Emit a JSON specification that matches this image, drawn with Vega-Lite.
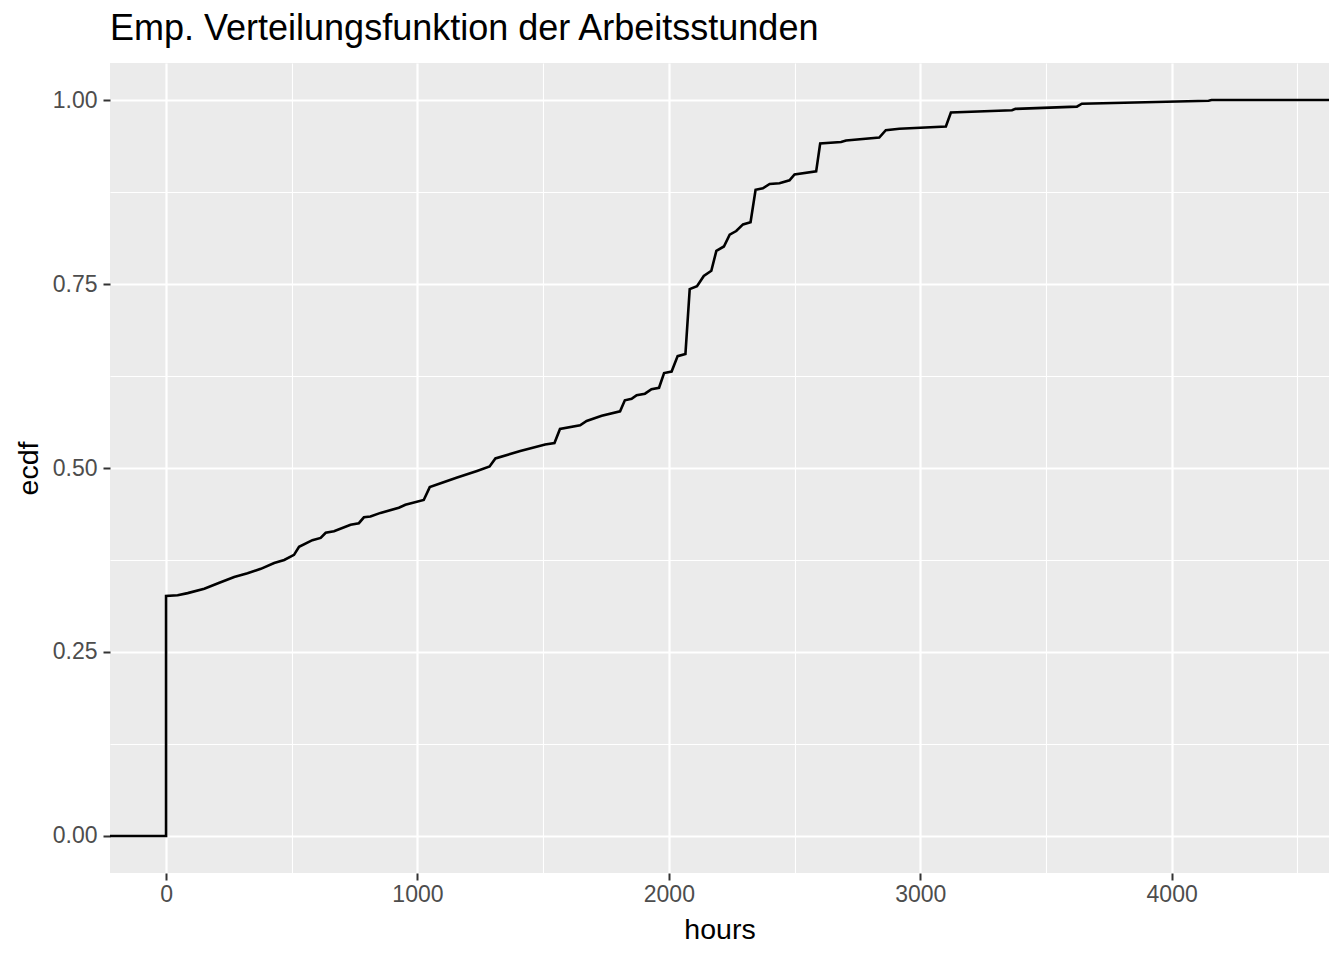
{
  "$schema": "https://vega.github.io/schema/vega-lite/v6.json",
  "width": 1219,
  "height": 810,
  "autosize": {"type": "none"},
  "padding": {"left": 110, "top": 63, "right": 15, "bottom": 87},
  "background": "white",
  "view": {"fill": "#EBEBEB", "stroke": null},
  "title": {
    "text": "Emp. Verteilungsfunktion der Arbeitsstunden",
    "anchor": "start",
    "frame": "group",
    "font": "Liberation Sans",
    "fontSize": 36,
    "fontWeight": "normal",
    "color": "black",
    "baseline": "alphabetic",
    "offset": -13
  },
  "data": {
    "values": [
      {"i": 0, "hours": -223, "ecdf": 0},
      {"i": 1, "hours": 0, "ecdf": 0},
      {"i": 2, "hours": 0, "ecdf": 0.326},
      {"i": 3, "hours": 46, "ecdf": 0.327},
      {"i": 4, "hours": 86, "ecdf": 0.330},
      {"i": 5, "hours": 152, "ecdf": 0.336},
      {"i": 6, "hours": 212, "ecdf": 0.344},
      {"i": 7, "hours": 271, "ecdf": 0.352},
      {"i": 8, "hours": 324, "ecdf": 0.357},
      {"i": 9, "hours": 377, "ecdf": 0.363},
      {"i": 10, "hours": 430, "ecdf": 0.371},
      {"i": 11, "hours": 470, "ecdf": 0.375},
      {"i": 12, "hours": 509, "ecdf": 0.382},
      {"i": 13, "hours": 529, "ecdf": 0.393},
      {"i": 14, "hours": 582, "ecdf": 0.402},
      {"i": 15, "hours": 615, "ecdf": 0.405},
      {"i": 16, "hours": 635, "ecdf": 0.412},
      {"i": 17, "hours": 668, "ecdf": 0.414},
      {"i": 18, "hours": 734, "ecdf": 0.423},
      {"i": 19, "hours": 767, "ecdf": 0.425},
      {"i": 20, "hours": 787, "ecdf": 0.433},
      {"i": 21, "hours": 813, "ecdf": 0.434},
      {"i": 22, "hours": 853, "ecdf": 0.439},
      {"i": 23, "hours": 926, "ecdf": 0.446},
      {"i": 24, "hours": 952, "ecdf": 0.450},
      {"i": 25, "hours": 1025, "ecdf": 0.4565},
      {"i": 26, "hours": 1049, "ecdf": 0.474},
      {"i": 27, "hours": 1098, "ecdf": 0.480},
      {"i": 28, "hours": 1158, "ecdf": 0.487},
      {"i": 29, "hours": 1237, "ecdf": 0.496},
      {"i": 30, "hours": 1287, "ecdf": 0.502},
      {"i": 31, "hours": 1310, "ecdf": 0.513},
      {"i": 32, "hours": 1409, "ecdf": 0.523},
      {"i": 33, "hours": 1508, "ecdf": 0.532},
      {"i": 34, "hours": 1545, "ecdf": 0.534},
      {"i": 35, "hours": 1567, "ecdf": 0.553},
      {"i": 36, "hours": 1647, "ecdf": 0.558},
      {"i": 37, "hours": 1673, "ecdf": 0.564},
      {"i": 38, "hours": 1733, "ecdf": 0.571},
      {"i": 39, "hours": 1806, "ecdf": 0.577},
      {"i": 40, "hours": 1825, "ecdf": 0.592},
      {"i": 41, "hours": 1852, "ecdf": 0.594},
      {"i": 42, "hours": 1872, "ecdf": 0.599},
      {"i": 43, "hours": 1905, "ecdf": 0.601},
      {"i": 44, "hours": 1931, "ecdf": 0.607},
      {"i": 45, "hours": 1961, "ecdf": 0.609},
      {"i": 46, "hours": 1981, "ecdf": 0.629},
      {"i": 47, "hours": 2011, "ecdf": 0.631},
      {"i": 48, "hours": 2035, "ecdf": 0.652},
      {"i": 49, "hours": 2066, "ecdf": 0.655},
      {"i": 50, "hours": 2083, "ecdf": 0.743},
      {"i": 51, "hours": 2112, "ecdf": 0.747},
      {"i": 52, "hours": 2139, "ecdf": 0.761},
      {"i": 53, "hours": 2169, "ecdf": 0.768},
      {"i": 54, "hours": 2189, "ecdf": 0.795},
      {"i": 55, "hours": 2219, "ecdf": 0.801},
      {"i": 56, "hours": 2242, "ecdf": 0.817},
      {"i": 57, "hours": 2268, "ecdf": 0.822},
      {"i": 58, "hours": 2295, "ecdf": 0.831},
      {"i": 59, "hours": 2325, "ecdf": 0.834},
      {"i": 60, "hours": 2345, "ecdf": 0.878},
      {"i": 61, "hours": 2374, "ecdf": 0.880},
      {"i": 62, "hours": 2401, "ecdf": 0.886},
      {"i": 63, "hours": 2440, "ecdf": 0.887},
      {"i": 64, "hours": 2480, "ecdf": 0.891},
      {"i": 65, "hours": 2500, "ecdf": 0.899},
      {"i": 66, "hours": 2586, "ecdf": 0.903},
      {"i": 67, "hours": 2602, "ecdf": 0.941},
      {"i": 68, "hours": 2685, "ecdf": 0.943},
      {"i": 69, "hours": 2705, "ecdf": 0.945},
      {"i": 70, "hours": 2837, "ecdf": 0.949},
      {"i": 71, "hours": 2863, "ecdf": 0.959},
      {"i": 72, "hours": 2917, "ecdf": 0.961},
      {"i": 73, "hours": 3102, "ecdf": 0.964},
      {"i": 74, "hours": 3122, "ecdf": 0.983},
      {"i": 75, "hours": 3365, "ecdf": 0.986},
      {"i": 76, "hours": 3379, "ecdf": 0.988},
      {"i": 77, "hours": 3623, "ecdf": 0.991},
      {"i": 78, "hours": 3643, "ecdf": 0.995},
      {"i": 79, "hours": 4147, "ecdf": 0.999},
      {"i": 80, "hours": 4159, "ecdf": 1.0},
      {"i": 81, "hours": 4626, "ecdf": 1.0}
    ]
  },
  "mark": {"type": "line", "color": "black", "strokeWidth": 2.6, "clip": true},
  "encoding": {
    "order": {"field": "i", "type": "quantitative"},
    "x": {
      "field": "hours",
      "type": "quantitative",
      "scale": {"domain": [-223, 4626], "nice": false, "zero": false},
      "axis": {
        "values": [0, 500, 1000, 1500, 2000, 2500, 3000, 3500, 4000, 4500],
        "format": "d",
        "labelExpr": "datum.value % 1000 === 0 ? datum.label : ''",
        "domain": false,
        "grid": true,
        "gridColor": "white",
        "gridOpacity": 1,
        "gridWidth": {"condition": {"test": "datum.value % 1000 === 0", "value": 2.2}, "value": 1.1},
        "ticks": true,
        "tickColor": "#333333",
        "tickWidth": 2,
        "tickSize": 7,
        "tickOpacity": {"condition": {"test": "datum.value % 1000 === 0", "value": 1}, "value": 0},
        "labelFont": "Liberation Sans",
        "labelFontSize": 23,
        "labelColor": "#4D4D4D",
        "labelPadding": 3,
        "labelFlush": false,
        "labelOverlap": false,
        "title": "hours",
        "titleFont": "Liberation Sans",
        "titleFontSize": 28.5,
        "titleFontWeight": "normal",
        "titleColor": "black",
        "titlePadding": 9
      }
    },
    "y": {
      "field": "ecdf",
      "type": "quantitative",
      "scale": {"domain": [-0.0503, 1.0503], "nice": false, "zero": false},
      "axis": {
        "values": [0, 0.125, 0.25, 0.375, 0.5, 0.625, 0.75, 0.875, 1],
        "format": ".2f",
        "labelExpr": "(datum.value * 4) % 1 === 0 ? datum.label : ''",
        "domain": false,
        "grid": true,
        "gridColor": "white",
        "gridOpacity": 1,
        "gridWidth": {"condition": {"test": "(datum.value * 4) % 1 === 0", "value": 2.2}, "value": 1.1},
        "ticks": true,
        "tickColor": "#333333",
        "tickWidth": 2,
        "tickSize": 7,
        "tickOpacity": {"condition": {"test": "(datum.value * 4) % 1 === 0", "value": 1}, "value": 0},
        "labelFont": "Liberation Sans",
        "labelFontSize": 23,
        "labelColor": "#4D4D4D",
        "labelPadding": 6,
        "labelFlush": false,
        "labelOverlap": false,
        "title": "ecdf",
        "titleFont": "Liberation Sans",
        "titleFontSize": 28.5,
        "titleFontWeight": "normal",
        "titleColor": "black",
        "titlePadding": 9
      }
    }
  }
}
